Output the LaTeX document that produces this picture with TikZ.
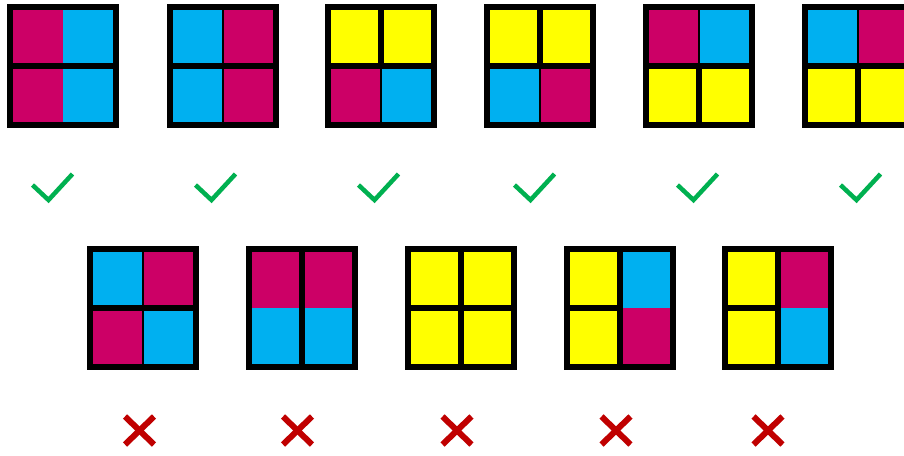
\documentclass[tikz,border=0pt]{standalone}
\usepackage{tikz}
\usetikzlibrary{calc}

\definecolor{mag}{HTML}{CC0066}
\definecolor{cya}{HTML}{00B0F0}
\definecolor{yel}{HTML}{FFFF00}
\definecolor{okgreen}{HTML}{00B050}
\definecolor{nored}{HTML}{C00000}

\begin{document}
\begin{tikzpicture}[x=1pt,y=-1pt,
  tile/.style={fill=black},
  tick/.style={draw=okgreen,line width=4.5pt,line cap=butt,line join=miter},
  cross/.style={draw=nored,line width=6pt,line cap=butt}]
\clip (0,0) rectangle (904,455);
\fill[white] (0,0) rectangle (904,455);
% tiles: name/left/top/TL/TR/BL/BR/vert top/vert bottom/horiz left/horiz right
\foreach \n/\x/\y/\a/\b/\c/\d/\p/\q/\r/\s in {
  t1/7/4/mag/cya/mag/cya/0/0/6/6,
  t2/167/4/cya/mag/cya/mag/2/2/6/6,
  t3/325/4/yel/yel/mag/cya/6/2/6/6,
  t4/484/4/yel/yel/cya/mag/6/2/6/6,
  t5/643/4/mag/cya/yel/yel/2/6/6/6,
  t6/802/4/cya/mag/yel/yel/2/6/6/6,
  b1/87/246/cya/mag/mag/cya/2/2/6/6,
  b2/246/246/mag/mag/cya/cya/6/6/0/0,
  b3/405/246/yel/yel/yel/yel/6/6/6/6,
  b4/564/246/yel/cya/yel/mag/6/6/6/0,
  b5/722/246/yel/mag/yel/cya/6/6/6/0}{
  \path[tile] (\x,\y) rectangle ++(112,124);
  \coordinate (\n) at (\x+56,\y+62);
  \fill[\a] (\x+6,\y+6) rectangle (\n);
  \fill[\b] (\x+106,\y+6) rectangle (\n);
  \fill[\c] (\x+6,\y+118) rectangle (\n);
  \fill[\d] (\x+106,\y+118) rectangle (\n);
  \ifnum\p>0 \draw[line width=\p pt] (\n) -- ++(0,-56); \fi
  \ifnum\q>0 \draw[line width=\q pt] (\n) -- ++(0,56); \fi
  \ifnum\r>0 \draw[line width=\r pt] (\n) -- ++(-50,0); \fi
  \ifnum\s>0 \draw[line width=\s pt] (\n) -- ++(50,0); \fi
}
% ticks under the top row
\foreach \n/\x in {k1/48.5,k2/211.5,k3/374.5,k4/530.5,k5/693.5,k6/856.5}{
  \coordinate (\n) at (\x,200);
  \draw[tick] ($(\n)+(-16,-15)$) -- (\n) -- ($(\n)+(24,-26)$);
}
% crosses under the bottom row
\foreach \n/\x in {c1/139.5,c2/297.5,c3/457,c4/616,c5/768}{
  \coordinate (\n) at (\x,430.5);
  \draw[cross] ($(\n)+(-14.5,-14)$) -- ($(\n)+(14.5,14)$);
  \draw[cross] ($(\n)+(-14.5,14)$) -- ($(\n)+(14.5,-14)$);
}
\end{tikzpicture}
\end{document}
